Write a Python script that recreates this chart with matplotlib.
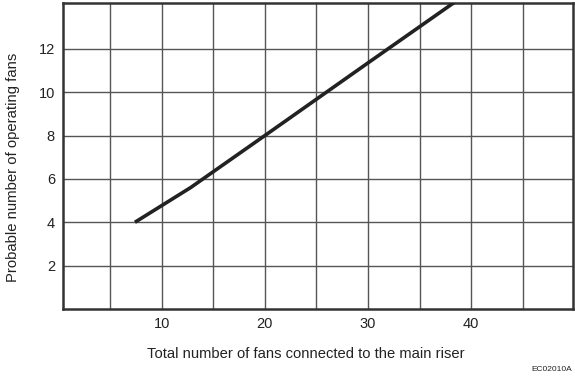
import matplotlib
matplotlib.use("Agg")
import matplotlib.pyplot as plt

plt.rcParams['font.family'] = ['Liberation Sans', 'DejaVu Sans']

# Data
fans_total = [7.4, 12.8, 20.0, 30.0, 38.4]
fans_operating = [4.0, 5.6, 8.0, 11.35, 14.15]

x_ticks = [10, 20, 30, 40]
y_ticks = [2, 4, 6, 8, 10, 12]
x_grid = [5, 10, 15, 20, 25, 30, 35, 40, 45]
y_grid = [2, 4, 6, 8, 10, 12]

fig = plt.figure(figsize=(5.75, 3.78), dpi=100)
ax = fig.add_axes([0.110, 0.1825, 0.886, 0.810])
ax.set_xlim(0.45, 49.85)
ax.set_ylim(0, 14.12)

for gx in x_grid:
    ax.axvline(gx, color='#555555', lw=1.0, zorder=1)
for gy in y_grid:
    ax.axhline(gy, color='#555555', lw=1.0, zorder=1)

ax.plot(fans_total, fans_operating, color='#222222', lw=2.6, zorder=3,
        solid_capstyle='butt', clip_on=True)

ax.set_xticks(x_ticks)
ax.set_yticks(y_ticks)
ax.tick_params(length=0, labelsize=10.5, colors='#222222', pad=6)
for s in ax.spines.values():
    s.set_linewidth(1.8)
    s.set_color('#333333')

ax.set_xlabel('Total number of fans connected to the main riser', fontsize=10.6,
              color='#222222')
ax.xaxis.set_label_coords(0.4765, -0.125)
ax.set_ylabel('Probable number of operating fans', fontsize=10.7,
              color='#222222')
ax.yaxis.set_label_coords(-0.085, 0.462)

fig.text(0.995, 0.012, 'EC02010A', fontsize=6, ha='right', va='bottom', color='#222222')

fig.savefig('out.png', dpi=100)
